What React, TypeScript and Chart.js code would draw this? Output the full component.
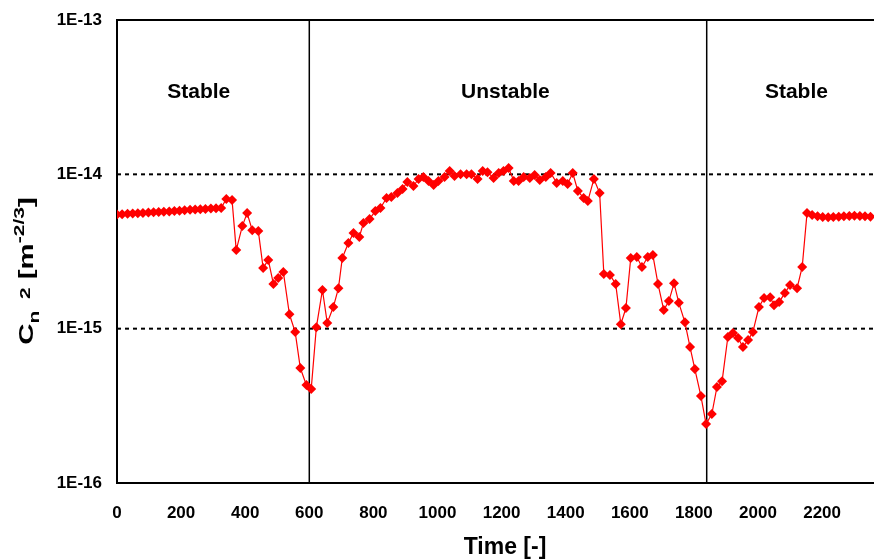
import React, { useEffect, useRef } from "react";
import { Chart, registerables } from "chart.js";

Chart.register(...registerables);

// Time axis values
const times: number[] = [
  0, 16, 33, 49, 65, 81, 98, 114, 130, 146, 163, 179, 195, 211, 228, 244, 260, 276, 293, 309, 325,
  341, 359, 372, 391, 406, 422, 441, 456, 472, 488, 503, 519, 538, 556, 572, 591, 606,
  622, 641, 656, 675, 691, 703, 722, 738, 756, 769, 788, 806, 822, 841, 856, 875, 891, 906, 925,
  941, 956, 972, 988, 1003, 1022, 1038, 1053, 1072, 1091, 1106, 1125, 1141, 1156, 1175, 1191, 1206,
  1222, 1238, 1253, 1269, 1288, 1303, 1319, 1338, 1353, 1372, 1391, 1406, 1422, 1438, 1456, 1469,
  1488, 1506, 1519, 1538, 1556, 1572, 1588, 1603, 1622, 1638, 1656, 1672, 1688, 1706, 1722, 1738,
  1753, 1772, 1788, 1803, 1822, 1838, 1856, 1872, 1888, 1906, 1922, 1938, 1953, 1969, 1984, 2003,
  2019, 2038, 2050, 2066, 2084, 2100, 2122, 2138, 2153, 2169, 2186, 2202, 2219, 2235, 2252, 2268,
  2285, 2301, 2318, 2334, 2351,
];

// Cn^2 values [m^-2/3]
const cn2: number[] = [
  5.5e-15, 5.52e-15, 5.55e-15, 5.57e-15, 5.6e-15, 5.62e-15, 5.65e-15, 5.67e-15, 5.7e-15, 5.72e-15,
  5.75e-15, 5.78e-15, 5.8e-15, 5.85e-15, 5.9e-15, 5.92e-15, 5.95e-15, 5.97e-15, 6.0e-15, 6.02e-15, 6.05e-15,
  6.92e-15, 6.81e-15, 3.23e-15, 4.62e-15, 5.61e-15, 4.35e-15, 4.29e-15, 2.47e-15, 2.79e-15, 1.95e-15,
  2.13e-15, 2.33e-15, 1.24e-15, 9.5e-16, 5.56e-16, 4.31e-16, 4.06e-16,
  1.02e-15, 1.78e-15, 1.09e-15, 1.38e-15, 1.83e-15, 2.87e-15, 3.59e-15, 4.17e-15, 3.93e-15, 4.83e-15,
  5.13e-15, 5.78e-15, 6.05e-15, 7.02e-15, 7.13e-15, 7.57e-15, 8.04e-15, 8.92e-15, 8.4e-15,
  9.33e-15, 9.61e-15, 9.06e-15, 8.53e-15, 9.06e-15, 9.61e-15, 1.05e-14, 9.75e-15, 1.0e-14, 1.0e-14,
  1.0e-14, 9.33e-15, 1.05e-14, 1.03e-14, 9.47e-15, 1.02e-14, 1.05e-14,
  1.1e-14, 9.06e-15, 9.06e-15, 9.61e-15, 9.47e-15, 9.9e-15, 9.2e-15, 9.61e-15, 1.02e-14, 8.8e-15,
  9.06e-15, 8.66e-15, 1.02e-14, 7.8e-15, 7.02e-15, 6.71e-15,
  9.33e-15, 7.57e-15, 2.26e-15, 2.23e-15, 1.95e-15, 1.07e-15, 1.36e-15, 2.87e-15, 2.91e-15, 2.51e-15,
  2.91e-15, 3.0e-15, 1.95e-15, 1.32e-15, 1.51e-15, 1.97e-15,
  1.47e-15, 1.1e-15, 7.6e-16, 5.47e-16, 3.66e-16, 2.41e-16, 2.8e-16, 4.19e-16, 4.57e-16, 8.83e-16,
  9.38e-16, 8.69e-16, 7.6e-16, 8.43e-16, 9.5e-16, 1.38e-15,
  1.58e-15, 1.6e-15, 1.42e-15, 1.49e-15, 1.7e-15, 1.92e-15, 1.83e-15, 2.51e-15, 5.61e-15, 5.45e-15,
  5.35e-15, 5.3e-15, 5.28e-15, 5.3e-15, 5.32e-15, 5.35e-15,
  5.38e-15, 5.4e-15, 5.38e-15, 5.35e-15, 5.32e-15,
];

const xTickValues: number[] = [0, 200, 400, 600, 800, 1000, 1200, 1400, 1600, 1800, 2000, 2200];
const yTickValues: number[] = [1e-16, 1e-15, 1e-14, 1e-13];
const dashedLevels: number[] = [1e-15, 1e-14];
const topLevel = 1e-13;
const boundaryTimes: number[] = [600, 1840];
const regimeLabels: string[] = ["Stable", "Unstable", "Stable"];
const regimeTimes: number[] = [255, 1212, 2120];
const regimeLevel = 3.4e-14;
const xMin = 0;
const xMax = 2362;

const FONT = '"Liberation Sans", Arial, Helvetica, sans-serif';

const overlayPlugin = {
  id: "overlay",
  beforeDatasetsDraw(chart: any) {
    const { ctx, chartArea, scales } = chart;
    const { left, right, top, bottom } = chartArea;
    const x = scales.x;
    const y = scales.y;
    ctx.save();
    ctx.strokeStyle = "#000";
    ctx.lineWidth = 2;
    ctx.setLineDash([4, 4]);
    for (const v of dashedLevels) {
      const py = y.getPixelForValue(v);
      ctx.beginPath();
      ctx.moveTo(left, py);
      ctx.lineTo(right, py);
      ctx.stroke();
    }
    // top border
    ctx.setLineDash([]);
    ctx.lineWidth = 2;
    const ty = y.getPixelForValue(topLevel);
    ctx.beginPath();
    ctx.moveTo(left, ty);
    ctx.lineTo(right, ty);
    ctx.stroke();
    ctx.lineWidth = 1.5;
    for (const b of boundaryTimes) {
      const px = x.getPixelForValue(b);
      ctx.beginPath();
      ctx.moveTo(px, top);
      ctx.lineTo(px, bottom);
      ctx.stroke();
    }
    ctx.fillStyle = "#000";
    ctx.font = `bold 21px ${FONT}`;
    ctx.textAlign = "center";
    ctx.textBaseline = "middle";
    regimeLabels.forEach((t, i) => {
      ctx.fillText(t, x.getPixelForValue(regimeTimes[i]), y.getPixelForValue(regimeLevel));
    });
    ctx.restore();
  },
  afterDraw(chart: any) {
    const { ctx } = chart;
    ctx.save();
    ctx.fillStyle = "#000";
    // x title
    ctx.font = `bold 23px ${FONT}`;
    ctx.textAlign = "center";
    ctx.textBaseline = "middle";
    ctx.fillText("Time [-]", 505, 548);
    // y title with sub/superscripts
    const segs = [
      { t: "C", s: 21, dy: 0 },
      { t: "n", s: 15, dy: 6 },
      { t: "  2", s: 15, dy: -3 },
      { t: " [m", s: 21, dy: 0 },
      { t: "-2/3", s: 15, dy: -9 },
      { t: "]", s: 21, dy: 0 },
    ];
    let total = 0;
    const widths: number[] = [];
    for (const sg of segs) {
      ctx.font = `bold ${sg.s}px ${FONT}`;
      const w = ctx.measureText(sg.t).width;
      widths.push(w);
      total += w;
    }
    const stretch = 1.4;
    ctx.translate(33, 271);
    ctx.rotate(-Math.PI / 2);
    ctx.scale(stretch, 1);
    ctx.textAlign = "left";
    ctx.textBaseline = "alphabetic";
    let cx = -total / 2;
    segs.forEach((sg, i) => {
      ctx.font = `bold ${sg.s}px ${FONT}`;
      ctx.fillText(sg.t, cx, sg.dy);
      cx += widths[i];
    });
    ctx.restore();
  },
};

function formatExp(v: number): string {
  const e = Math.round(Math.log10(v));
  return "1E" + (e < 0 ? "-" : "+") + Math.abs(e);
}

export default function App() {
  const canvasRef = useRef<HTMLCanvasElement | null>(null);

  useEffect(() => {
    const canvas = canvasRef.current;
    if (!canvas) return;
    const chart = new Chart(canvas, {
      type: "line",
      data: {
        datasets: [
          {
            data: times.map((t, i) => ({ x: t, y: cn2[i] })),
            borderColor: "#ff0000",
            backgroundColor: "#ff0000",
            borderWidth: 1.2,
            pointStyle: "rectRot",
            pointRadius: 5,
            pointBackgroundColor: "#ff0000",
            pointBorderColor: "#ff0000",
            pointBorderWidth: 0,
            tension: 0,
            fill: false,
          },
        ],
      },
      options: {
        animation: false,
        responsive: false,
        devicePixelRatio: 1,
        layout: { autoPadding: false, padding: { top: 20, right: 0, left: 0, bottom: 0 } },
        plugins: {
          legend: { display: false },
          tooltip: { enabled: false },
          title: { display: false },
        },
        scales: {
          x: {
            type: "linear",
            min: xMin,
            max: xMax,
            afterBuildTicks: (s: any) => {
              s.ticks = xTickValues.map((v) => ({ value: v }));
            },
            afterFit: (s: any) => {
              s.height = 77;
              s.paddingLeft = 0;
              s.paddingRight = 0;
            },
            ticks: {
              color: "#000",
              font: { family: FONT, size: 17, weight: "bold" },
              padding: 20,
              maxRotation: 0,
              autoSkip: false,
              callback: (v: any) => String(v),
            },
            grid: { display: false, drawTicks: false },
            border: { display: true, color: "#000", width: 2 },
          },
          y: {
            type: "logarithmic",
            min: 1e-16,
            max: 1e-13,
            afterBuildTicks: (s: any) => {
              s.ticks = yTickValues.map((v) => ({ value: v }));
            },
            afterFit: (s: any) => {
              s.width = 117;
              s.paddingTop = 10;
              s.paddingBottom = 10;
            },
            ticks: {
              color: "#000",
              font: { family: FONT, size: 17, weight: "bold" },
              padding: 15,
              autoSkip: false,
              callback: (v: any) => formatExp(Number(v)),
            },
            grid: { display: false, drawTicks: false },
            border: { display: true, color: "#000", width: 2 },
          },
        },
      },
      plugins: [overlayPlugin],
    } as any);
    return () => chart.destroy();
  }, []);

  return (
    <div style={{ position: "absolute", left: 0, top: 0, width: 874, height: 560, background: "#fff" }}>
      <canvas ref={canvasRef} width={874} height={560} style={{ width: 874, height: 560, display: "block" }} />
    </div>
  );
}
